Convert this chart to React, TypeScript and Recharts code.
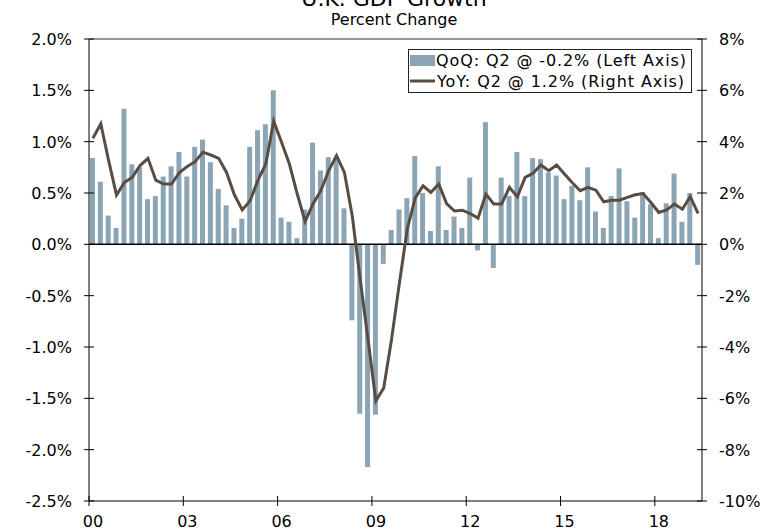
import React from "react";
import {
  ComposedChart,
  Bar,
  Line,
  XAxis,
  YAxis,
  ReferenceLine,
} from "recharts";

// quarters 2000Q1 .. 2019Q2
const quarters = [
  "00Q1", "00Q2", "00Q3", "00Q4",
  "01Q1", "01Q2", "01Q3", "01Q4",
  "02Q1", "02Q2", "02Q3", "02Q4",
  "03Q1", "03Q2", "03Q3", "03Q4",
  "04Q1", "04Q2", "04Q3", "04Q4",
  "05Q1", "05Q2", "05Q3", "05Q4",
  "06Q1", "06Q2", "06Q3", "06Q4",
  "07Q1", "07Q2", "07Q3", "07Q4",
  "08Q1", "08Q2", "08Q3", "08Q4",
  "09Q1", "09Q2", "09Q3", "09Q4",
  "10Q1", "10Q2", "10Q3", "10Q4",
  "11Q1", "11Q2", "11Q3", "11Q4",
  "12Q1", "12Q2", "12Q3", "12Q4",
  "13Q1", "13Q2", "13Q3", "13Q4",
  "14Q1", "14Q2", "14Q3", "14Q4",
  "15Q1", "15Q2", "15Q3", "15Q4",
  "16Q1", "16Q2", "16Q3", "16Q4",
  "17Q1", "17Q2", "17Q3", "17Q4",
  "18Q1", "18Q2", "18Q3", "18Q4",
  "19Q1", "19Q2",
];

// QoQ % change (left axis)
const qoq = [
  0.84, 0.61, 0.28, 0.16,
  1.32, 0.78, 0.75, 0.44,
  0.47, 0.66, 0.76, 0.9,
  0.66, 0.95, 1.02, 0.8,
  0.54, 0.38, 0.16, 0.25,
  0.95, 1.11, 1.17, 1.5,
  0.26, 0.22, 0.06, 0.34,
  0.99, 0.72, 0.85, 0.85,
  0.35, -0.74, -1.65, -2.17,
  -1.66, -0.19, 0.14, 0.34,
  0.45, 0.86, 0.5, 0.13,
  0.76, 0.14, 0.27, 0.16,
  0.65, -0.06, 1.19, -0.23,
  0.65, 0.47, 0.9, 0.47,
  0.84, 0.83, 0.7, 0.67,
  0.44, 0.57, 0.43, 0.75,
  0.32, 0.16, 0.47, 0.74,
  0.42, 0.26, 0.51, 0.39,
  0.06, 0.4, 0.69, 0.22,
  0.5, -0.2,
];

// YoY % change (right axis)
const yoy = [
  4.13, 4.7, 3.26, 1.92,
  2.41, 2.61, 3.07, 3.35,
  2.5, 2.35, 2.35, 2.8,
  3.03, 3.22, 3.59, 3.48,
  3.35, 2.8, 1.93, 1.34,
  1.7, 2.5, 3.13, 4.8,
  3.98, 3.13, 1.96, 0.89,
  1.57, 2.09, 2.87, 3.46,
  2.8, 1.1, -1.35, -3.7,
  -6.1, -5.6, -3.7, -1.5,
  0.6, 1.8, 2.28, 2.02,
  2.35, 1.59, 1.3, 1.33,
  1.2, 1.02, 1.96, 1.57,
  1.57, 2.22, 1.85, 2.61,
  2.77, 3.09, 2.87, 3.09,
  2.74, 2.4, 2.09, 2.22,
  2.11, 1.66, 1.72, 1.72,
  1.83, 1.93, 1.98, 1.63,
  1.24, 1.34, 1.57, 1.37,
  1.86, 1.21,
];

const xTicks = ["00Q1", "03Q1", "06Q1", "09Q1", "12Q1", "15Q1", "18Q1"];
const leftTicks = [-2.5, -2, -1.5, -1, -0.5, 0, 0.5, 1, 1.5, 2];
const rightTicks = [-10, -8, -6, -4, -2, 0, 2, 4, 6, 8];

const data = quarters.map((q, i) => ({ q, qoq: qoq[i], yoy: yoy[i] }));

const W = 776;
const H = 529;
const LEFT_W = 89;
const RIGHT_W = 74;
const X_H = 28;
const BAR_COLOR = "#8ba5b5";
const LINE_COLOR = "#594c42";
const FONT = "'DejaVu Sans', Verdana, sans-serif";
const halfBand = (W - LEFT_W - RIGHT_W) / quarters.length / 2;

function XTick({ x, y, payload }: any) {
  const x0 = x - halfBand;
  return (
    <g>
      <line x1={x0} x2={x0} y1={y - 10} y2={y} stroke="#000" />
      <text x={x0 + 4} y={y + 21} textAnchor="middle" fontSize={16} fontFamily={FONT} fill="#000">
        {String(payload.value).slice(0, 2)}
      </text>
    </g>
  );
}

function LeftTick({ x, y, payload }: any) {
  return (
    <g>
      <line x1={x + 12} x2={x + 22} y1={y} y2={y} stroke="#000" />
      <text x={x} y={y + 6} textAnchor="end" fontSize={16} fontFamily={FONT} fill="#000">
        {payload.value.toFixed(1) + "%"}
      </text>
    </g>
  );
}

function RightTick({ x, y, payload }: any) {
  return (
    <g>
      <line x1={x - 22} x2={x - 12} y1={y} y2={y} stroke="#000" />
      <text x={x} y={y + 6} textAnchor="start" fontSize={16} fontFamily={FONT} fill="#000">
        {payload.value + "%"}
      </text>
    </g>
  );
}

// legend box, drawn over the plot's top right
function LegendBox() {
  return (
    <g transform="translate(408,49)">
      <rect x={0.5} y={0.5} width={283} height={43} fill="#fff" stroke="#222" />
      <rect x={2} y={6} width={25} height={11} fill={BAR_COLOR} />
      <line x1={2} x2={27} y1={32} y2={32} stroke={LINE_COLOR} strokeWidth={3} />
      <text x={28} y={17} fontSize={16} fontFamily={FONT} fill="#000" textLength={250} lengthAdjust="spacing">
        QoQ: Q2 @ -0.2% (Left Axis)
      </text>
      <text x={29} y={38} fontSize={16} fontFamily={FONT} fill="#000" textLength={247} lengthAdjust="spacing">
        YoY: Q2 @ 1.2% (Right Axis)
      </text>
    </g>
  );
}

export default function App() {
  return (
    <div style={{ position: "absolute", top: 0, left: 0, width: W, height: H, background: "#fff" }}>
      <ComposedChart
        width={W}
        height={H}
        data={data}
        margin={{ top: 39, right: 0, bottom: 0, left: 0 }}
      >
        <XAxis
          dataKey="q"
          ticks={xTicks}
          interval={0}
          height={X_H}
          axisLine={{ stroke: "#000" }}
          tickLine={false}
          tickSize={5}
          tickMargin={0}
          tick={<XTick />}
        />
        <YAxis
          yAxisId="left"
          domain={[-2.5, 2]}
          ticks={leftTicks}
          width={LEFT_W}
          axisLine={{ stroke: "#000" }}
          tickLine={false}
          tickSize={5}
          tickMargin={12}
          tick={<LeftTick />}
          allowDataOverflow
        />
        <YAxis
          yAxisId="right"
          orientation="right"
          domain={[-10, 8]}
          ticks={rightTicks}
          width={RIGHT_W}
          axisLine={{ stroke: "#000" }}
          tickLine={false}
          tickSize={5}
          tickMargin={12}
          tick={<RightTick />}
          allowDataOverflow
        />
        <ReferenceLine yAxisId="left" y={2} stroke="#333" />
        <Bar
          yAxisId="left"
          dataKey="qoq"
          fill={BAR_COLOR}
          barSize={5}
          isAnimationActive={false}
        />
        <ReferenceLine yAxisId="left" y={0} stroke="#000" strokeWidth={1.5} />
        <Line
          yAxisId="right"
          dataKey="yoy"
          type="linear"
          stroke={LINE_COLOR}
          strokeWidth={3}
          dot={false}
          isAnimationActive={false}
        />
      </ComposedChart>
      <svg
        width={W}
        height={H}
        style={{ position: "absolute", top: 0, left: 0, pointerEvents: "none" }}
      >
        <text x={394} y={6} textAnchor="middle" fontSize={22} fontFamily={FONT} fill="#000">
          U.K. GDP Growth
        </text>
        <text x={394} y={25} textAnchor="middle" fontSize={16} fontFamily={FONT} fill="#000">
          Percent Change
        </text>
        <LegendBox />
      </svg>
    </div>
  );
}
